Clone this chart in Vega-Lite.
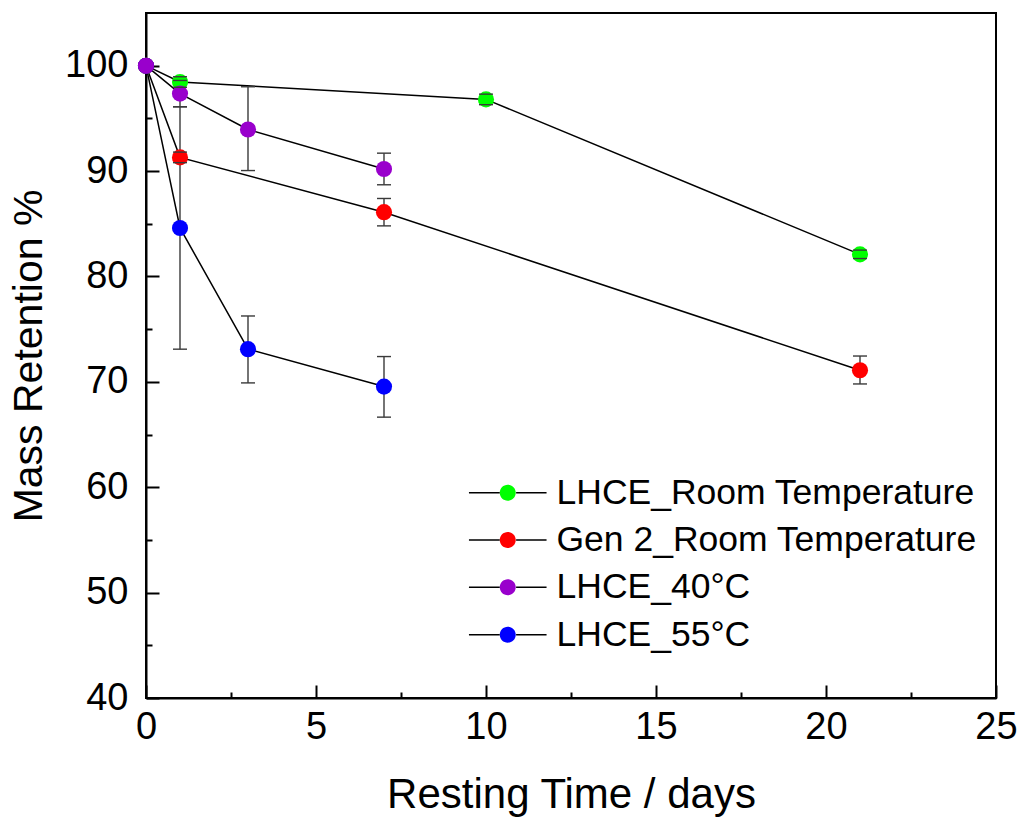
{
  "$schema": "https://vega.github.io/schema/vega-lite/v6.json",
  "width": 850,
  "height": 685,
  "autosize": {"type": "none"},
  "padding": {"left": 146, "top": 13, "right": 27, "bottom": 123},
  "background": "white",
  "data": {
    "values": [
      {"series": "LHCE_Room Temperature", "day": 0, "mr": 100, "lo": null, "hi": null},
      {"series": "LHCE_Room Temperature", "day": 1, "mr": 98.45, "lo": 97.95, "hi": 98.95},
      {"series": "LHCE_Room Temperature", "day": 10, "mr": 96.8, "lo": 96.3, "hi": 97.3},
      {"series": "LHCE_Room Temperature", "day": 21, "mr": 82.1, "lo": 81.7, "hi": 82.5},
      {"series": "Gen 2_Room Temperature", "day": 0, "mr": 100, "lo": null, "hi": null},
      {"series": "Gen 2_Room Temperature", "day": 1, "mr": 91.3, "lo": 90.8, "hi": 91.8},
      {"series": "Gen 2_Room Temperature", "day": 7, "mr": 86.1, "lo": 84.8, "hi": 87.4},
      {"series": "Gen 2_Room Temperature", "day": 21, "mr": 71.1, "lo": 69.8, "hi": 72.45},
      {"series": "LHCE_55°C", "day": 0, "mr": 100, "lo": null, "hi": null},
      {"series": "LHCE_55°C", "day": 1, "mr": 84.6, "lo": 73.1, "hi": 96.1},
      {"series": "LHCE_55°C", "day": 3, "mr": 73.1, "lo": 69.9, "hi": 76.25},
      {"series": "LHCE_55°C", "day": 7, "mr": 69.55, "lo": 66.65, "hi": 72.4},
      {"series": "LHCE_40°C", "day": 0, "mr": 100, "lo": null, "hi": null},
      {"series": "LHCE_40°C", "day": 1, "mr": 97.35, "lo": 96.1, "hi": 98.6},
      {"series": "LHCE_40°C", "day": 3, "mr": 93.95, "lo": 90.05, "hi": 98.0},
      {"series": "LHCE_40°C", "day": 7, "mr": 90.2, "lo": 88.7, "hi": 91.7}
    ]
  },
  "encoding": {
    "x": {
      "field": "day", "type": "quantitative",
      "scale": {"domain": [0, 25], "nice": false, "zero": false},
      "axis": {
        "title": "Resting Time / days",
        "values": [0, 2.5, 5, 7.5, 10, 12.5, 15, 17.5, 20, 22.5, 25],
        "labelExpr": "datum.value % 5 === 0 ? datum.label : ''",
        "tickSize": {"condition": {"test": "datum.value % 5 !== 0", "value": -6}, "value": -13},
        "labelPadding": 23,
        "titlePadding": 21,
        "titleFontSize": 42
      }
    },
    "y": {
      "field": "mr", "type": "quantitative",
      "scale": {"domain": [40, 105], "nice": false, "zero": false},
      "axis": {
        "title": "Mass Retention %",
        "values": [40, 45, 50, 55, 60, 65, 70, 75, 80, 85, 90, 95, 100],
        "labelExpr": "datum.value % 10 === 0 ? datum.label : ''",
        "tickSize": {"condition": {"test": "datum.value % 10 !== 0", "value": -6}, "value": -13},
        "labelPadding": 31,
        "titlePadding": 14,
        "titleFontSize": 41
      }
    }
  },
  "layer": [
    {
      "mark": {"type": "line", "color": "black", "strokeWidth": 1.5},
      "encoding": {"detail": {"field": "series", "type": "nominal"}}
    },
    {
      "mark": {"type": "rule", "color": "#3a3a3a", "strokeWidth": 1.4},
      "encoding": {"y": {"field": "lo", "type": "quantitative"}, "y2": {"field": "hi"}}
    },
    {
      "mark": {"type": "point", "filled": true, "size": 260, "opacity": 1, "strokeWidth": 0},
      "encoding": {
        "color": {
          "field": "series", "type": "nominal",
          "scale": {
            "domain": ["LHCE_Room Temperature", "Gen 2_Room Temperature", "LHCE_40°C", "LHCE_55°C"],
            "range": ["#00ff00", "#ff0000", "#9900cc", "#0000ff"]
          },
          "legend": {
            "title": null,
            "orient": "none",
            "legendX": 344,
            "legendY": 462,
            "padding": 0,
            "labelFont": "Liberation Sans",
            "labelFontSize": 35.5,
            "labelColor": "black",
            "labelLimit": 0,
            "labelOffset": 31,
            "rowPadding": 10.3,
            "symbolSize": 256,
            "symbolType": "M-4.85,0H-1A1,1 0 1,1 1,0A1,1 0 1,1 -1,0H1H4.85",
            "symbolStrokeWidth": 1.5,
            "symbolStrokeColor": "black",
            "symbolDash": [30.8, 66.3, 31, 300],
            "encode": {
              "symbols": {
                "update": {
                  "shape": {"value": "M-4.85,0H-1A1,1 0 1,1 1,0A1,1 0 1,1 -1,0H1H4.85"},
                  "stroke": {"value": "black"},
                  "strokeWidth": {"value": 1.5},
                  "strokeDash": {"value": [30.8, 66.3, 31, 300]},
                  "opacity": {"value": 1}
                }
              }
            }
          }
        }
      }
    },
    {
      "mark": {"type": "tick", "orient": "horizontal", "size": 14, "thickness": 1.4, "color": "#3a3a3a", "opacity": 1},
      "encoding": {"y": {"field": "lo", "type": "quantitative"}}
    },
    {
      "mark": {"type": "tick", "orient": "horizontal", "size": 14, "thickness": 1.4, "color": "#3a3a3a", "opacity": 1},
      "encoding": {"y": {"field": "hi", "type": "quantitative"}}
    }
  ],
  "config": {
    "view": {"stroke": "black", "strokeWidth": 2},
    "axis": {
      "grid": false,
      "domainColor": "black",
      "domainWidth": 2,
      "tickColor": "black",
      "tickWidth": 2,
      "labelFont": "Liberation Sans",
      "labelFontSize": 38,
      "labelColor": "black",
      "labelFlush": false,
      "labelOverlap": false,
      "titleFont": "Liberation Sans",
      "titleFontWeight": "normal",
      "titleColor": "black"
    }
  }
}
